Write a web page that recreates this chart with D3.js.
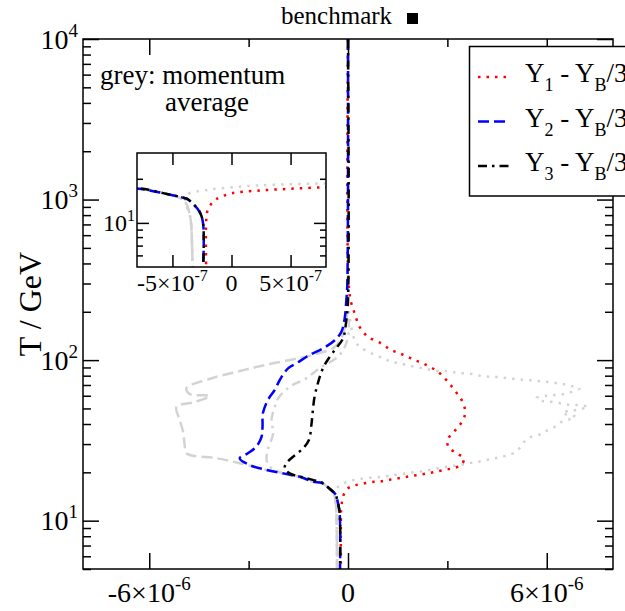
<!DOCTYPE html>
<html><head><meta charset="utf-8">
<script src="https://cdn.jsdelivr.net/npm/d3@7/dist/d3.min.js"></script>
<style>body{margin:0;background:#fff} text{font-family:"Liberation Serif","Times New Roman",serif;white-space:pre}</style>
</head><body>
<svg id="c" width="625" height="611" xmlns="http://www.w3.org/2000/svg"></svg>
<script>
// ---------- DATA (values in units of 1e-6) ----------
const UNIT = 1e-6;
const tY1 = [10000,300,226,196,161,140,127,117,111,106,100,95.5,89.7,83.5,75.9,69,62.1,55.9,49.4,43.4,38.9,35.3,31.8,28.4,26.3,24.3,22.1,21.2,20.6,20.1,19.6,19.2,18.8,18.4,18.0,17.6,17.5,17.1,16.6,15.9,14.5,13.2,11.9,10,5];
const vY1 = [0,0.02,0.1,0.2,0.35,0.6,1.0,1.26,1.51,1.76,2.01,2.26,2.52,2.75,2.95,3.12,3.29,3.44,3.53,3.50,3.35,3.17,3.00,3.05,3.28,3.50,3.40,3.15,2.87,2.60,2.34,2.06,1.79,1.53,1.26,1.01,0.79,0.5,0.22,0.0,-0.13,-0.18,-0.206,-0.215,-0.215];

const tY2 = [10000,300,236.7,182,150,133,118.5,107.6,95.5,88.9,75.2,65.2,56.4,46.6,38.5,33.3,28.9,26.3,24.5,22.2,20.7,19.7,18.8,17.5,17.2,16.7,15.9,14.8,14.5,11.9,9.8,5];
const vY2 = [0,-0.02,-0.05,-0.10,-0.20,-0.40,-0.75,-1.16,-1.56,-1.81,-2.06,-2.21,-2.42,-2.57,-2.58,-2.61,-2.77,-3.02,-3.27,-2.97,-2.46,-1.96,-1.46,-1.06,-0.80,-0.70,-0.57,-0.40,-0.37,-0.27,-0.24,-0.24];

const tY3 = [10000,236.7,177.8,136.7,115.6,97.7,84.7,71.7,59.2,46.6,40.4,31.8,28.2,25.0,22.8,21.2,19.7,18.4,17.1,15.9,14.8,14.5,11.9,9.8,5];
const vY3 = [0,0,-0.05,-0.15,-0.40,-0.65,-0.80,-0.91,-1.01,-1.07,-1.10,-1.18,-1.36,-1.66,-1.86,-1.91,-1.76,-1.26,-0.75,-0.57,-0.40,-0.37,-0.27,-0.24,-0.24];

// grey: momentum average
const tY1avg = [10000,236.7,185,133.4,121.2,110.3,102.6,97.7,95.5,92.3,90.2,88.0,85.9,85.5,84.0,82.8,81.9,79.6,78.8,78.2,77.0,75.9,75.2,74.4,73.4,72.3,71.0,69.0,66.8,63.6,61.3,60.6,59.8,58.1,55.6,55.1,53.8,52.7,52.5,51.2,49.4,48.2,47.5,45.5,44.4,42.8,41.2,38.9,36.7,34.6,32.6,30.3,26.9,25.6,24.8,24.2,23.5,23.0,22.4,22.0,21.7,21.2,20.7,20.2,19.9,19.5,19.2,18.8,18.6,18.2,17.7,16.8,15.5,13.6,11,9.4,5];
const vY1avg = [0,0,0.05,0.2,0.35,0.71,1.06,1.31,1.58,1.84,2.11,2.37,2.65,2.92,3.19,3.47,3.76,4.03,4.31,4.58,4.85,5.11,5.39,5.66,5.94,6.21,6.47,6.74,6.99,6.77,6.49,6.24,5.96,5.69,5.87,6.12,6.42,6.69,6.97,7.25,6.99,6.74,6.47,6.62,6.87,6.69,6.44,6.29,6.04,5.82,5.43,5.28,5.08,4.83,4.58,4.31,4.03,3.76,3.47,3.22,2.97,2.72,2.45,2.16,1.89,1.61,1.34,1.08,0.79,0.36,0.08,-0.2,-0.38,-0.385,-0.35,-0.34,-0.33];

const tY2avg = [10000,236.7,180,143.4,120.7,110.7,103.1,94.6,85.5,76.3,66.8,61.5,59.8,54.8,51.2,42.4,35.8,29.6,26.3,24.5,22.8,20.7,19.7,18.8,17.5,17.2,15.9,15,13.6,11,9.4,5];
const vY2avg = [0,-0.02,-0.05,-0.16,-0.40,-0.85,-1.46,-2.36,-3.27,-4.18,-4.88,-4.78,-4.18,-4.63,-5.18,-5.08,-4.98,-4.93,-4.88,-3.97,-3.27,-2.46,-1.96,-1.46,-1.06,-0.80,-0.57,-0.45,-0.385,-0.35,-0.34,-0.33];

const tY3avg = [10000,236.7,139.9,107.6,89.3,77.0,68.3,57.8,51.2,42.4,35.0,27.6,23.9,21.7,19.7,18.6,17.5,17.2,15.9,15,13.6,11,9.4,5];
const vY3avg = [0,0,0,-0.25,-0.85,-1.26,-1.76,-2.11,-2.21,-2.31,-2.26,-2.42,-2.46,-2.36,-1.97,-1.46,-1.06,-0.80,-0.57,-0.45,-0.385,-0.35,-0.34,-0.33];

// axis ticks & labels
const mainXTicks = [-6e-6, 0, 6e-6];
const mainXMinor = [-3e-6, 3e-6];
const mainXLabels = [["-6×10","-6"],["0",""],["6×10","-6"]];
const mainYTicks = [10, 100, 1000, 10000];
const mainYLabels = [["10","1"],["10","2"],["10","3"],["10","4"]];
const insetXTicks = [-5e-7, 0, 5e-7];
const insetXLabels = [["-5×10","-7"],["0",""],["5×10","-7"]];
const insetYTicks = [10];
const insetYMinor = [6,7,8,9,20];
const insetYLabels = [["10","1"]];
const legendLabels = [["Y","1"," - Y","B","/3"],["Y","2"," - Y","B","/3"],["Y","3"," - Y","B","/3"]];

// ---------- STYLES ----------
const GREY = "#d3d3d3";
const DOT = "2.5,6", DASH = "11,5", DASHDOT = "9,5,2.5,5";
const series = [
  {t:tY1avg, v:vY1avg, color:GREY, dash:DOT},
  {t:tY2avg, v:vY2avg, color:GREY, dash:DASH},
  {t:tY3avg, v:vY3avg, color:GREY, dash:DASHDOT},
  {t:tY1, v:vY1, color:"#ff0000", dash:DOT},
  {t:tY2, v:vY2, color:"#0000ff", dash:DASH},
  {t:tY3, v:vY3, color:"#000000", dash:DASHDOT}
];

const svg = d3.select("#c");
const L=83, R=613, T=39, B=569;
const x = d3.scaleLinear().domain([-8e-6, 8e-6]).range([L, R]);
const y = d3.scaleLog().domain([5, 1e4]).range([B, T]);

const defs = svg.append("defs");
defs.append("clipPath").attr("id","clipMain").append("rect").attr("x",L).attr("y",T).attr("width",R-L).attr("height",B-T);

function drawCurves(g, xs, ys){
  series.forEach(s=>{
    const pts = s.t.map((tt,i)=>({T:tt, v:s.v[i]*UNIT}));
    const line = d3.line().x(d=>xs(d.v)).y(d=>ys(d.T)).curve(d3.curveCatmullRom.alpha(0.5));
    g.append("path").datum(pts).attr("d",line).attr("fill","none")
      .attr("stroke",s.color).attr("stroke-width",2.5).attr("stroke-dasharray",s.dash);
  });
}

function labelText(g, xp, yp, parts, size, supSize, anchor, rise){
  const t = g.append("text").attr("x",xp).attr("y",yp).attr("font-size",size).attr("text-anchor",anchor).attr("fill","#000");
  t.append("tspan").text(parts[0]);
  if(parts[1]) t.append("tspan").attr("font-size",supSize).attr("dy",-rise).text(parts[1]);
  return t;
}

function axes(g, xs, ys, xMaj, xMin, yMaj, yMin, bigX, bigY, small){
  const ax = (fn, sc, vals, len, tr) => {
    const a = fn(sc).tickValues(vals).tickSize(-len).tickFormat("");
    const gg = g.append("g").attr("transform",tr).call(a);
    gg.select(".domain").remove();
    gg.selectAll("line").attr("stroke","#000").attr("stroke-width",1.5);
  };
  const [x0,x1] = xs.range(), [y0,y1] = ys.range();
  ax(d3.axisBottom, xs, xMaj, bigX, `translate(0,${y0})`);
  ax(d3.axisTop, xs, xMaj, bigX, `translate(0,${y1})`);
  if(xMin.length){ ax(d3.axisBottom, xs, xMin, small, `translate(0,${y0})`); ax(d3.axisTop, xs, xMin, small, `translate(0,${y1})`); }
  ax(d3.axisLeft, ys, yMaj, bigY, `translate(${x0},0)`);
  ax(d3.axisRight, ys, yMaj, bigY, `translate(${x1},0)`);
  ax(d3.axisLeft, ys, yMin, small, `translate(${x0},0)`);
  ax(d3.axisRight, ys, yMin, small, `translate(${x1},0)`);
  g.append("rect").attr("x",x0).attr("y",y1).attr("width",x1-x0).attr("height",y0-y1)
    .attr("fill","none").attr("stroke","#000").attr("stroke-width",1.5);
}

// main curves
const gMain = svg.append("g").attr("clip-path","url(#clipMain)");
drawCurves(gMain, x, y);

// main axes
const yMinorMain = y.ticks().filter(v => !mainYTicks.includes(v));
axes(svg.append("g"), x, y, mainXTicks, mainXMinor, mainYTicks, yMinorMain, 16, 16, 8);

// main tick labels
mainXTicks.forEach((v,i)=> labelText(svg, x(v), 602, mainXLabels[i], 28, 19, "middle", 12));
mainYTicks.forEach((v,i)=> labelText(svg, 78, y(v)+9.5, mainYLabels[i], 28, 19, "end", 12));

// axis title
svg.append("text").attr("transform",`translate(41,${(T+B)/2}) rotate(-90)`).attr("text-anchor","middle")
  .attr("font-size",32).text("T / GeV");

// title
svg.append("text").attr("x",281).attr("y",24).attr("font-size",25).text("benchmark");
svg.append("rect").attr("x",407).attr("y",13).attr("width",11).attr("height",11).attr("fill","#000");

// annotation
svg.append("text").attr("x",100).attr("y",84).attr("font-size",27).text("grey: momentum");
svg.append("text").attr("x",165).attr("y",111).attr("font-size",27).text("average");

// ---------- INSET ----------
const iL=137, iR=326, iT=153, iB=267;
const xi = d3.scaleLinear().domain([-8e-7, 8e-7]).range([iL, iR]);
const yi = d3.scaleLog().domain([5, 30]).range([iB, iT]);
defs.append("clipPath").attr("id","clipInset").append("rect").attr("x",iL).attr("y",iT).attr("width",iR-iL).attr("height",iB-iT);
svg.append("rect").attr("x",iL).attr("y",iT).attr("width",iR-iL).attr("height",iB-iT).attr("fill","#fff");
drawCurves(svg.append("g").attr("clip-path","url(#clipInset)"), xi, yi);
axes(svg.append("g"), xi, yi, insetXTicks, [], insetYTicks, insetYMinor, 12, 12, 6);
insetXTicks.forEach((v,i)=> labelText(svg, xi(v), 291, insetXLabels[i], 24, 16, "middle", 10));
insetYTicks.forEach((v,i)=> labelText(svg, 135, yi(v)+8, insetYLabels[i], 24, 16, "end", 10));

// ---------- LEGEND ----------
const lg = svg.append("g");
lg.append("rect").attr("x",469.5).attr("y",46.5).attr("width",200).attr("height",149.5)
  .attr("fill","#fff").attr("stroke","#000").attr("stroke-width",1.5);
const legStyles = series.slice(3);
legendLabels.forEach((lab,i)=>{
  const yy = 77 + i*44.5;
  lg.append("line").attr("x1",478).attr("x2",509).attr("y1",yy).attr("y2",yy)
    .attr("stroke",legStyles[i].color).attr("stroke-width",2.5).attr("stroke-dasharray",legStyles[i].dash);
  const t = lg.append("text").attr("x",525).attr("y",yy+5).attr("font-size",27);
  t.append("tspan").text(lab[0]);
  t.append("tspan").attr("font-size",18).attr("dy",9).text(lab[1]);
  t.append("tspan").attr("dy",-9).text(lab[2]);
  t.append("tspan").attr("font-size",18).attr("dy",9).text(lab[3]);
  t.append("tspan").attr("dy",-9).text(lab[4]);
});
</script>
</body></html>
